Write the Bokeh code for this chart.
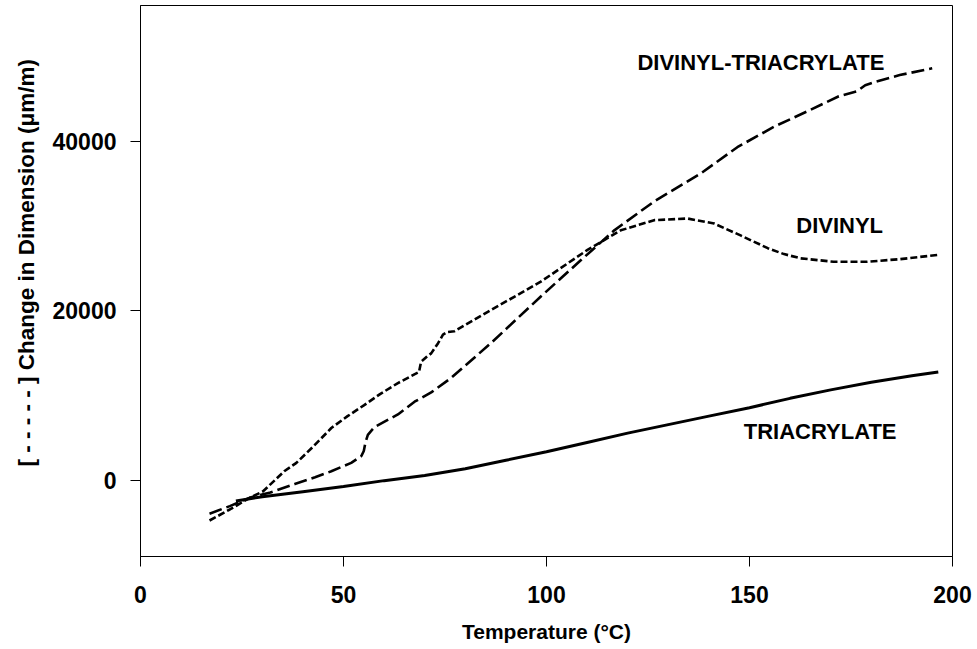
from bokeh.plotting import figure
from bokeh.models import Range1d, FixedTicker, Label, Title
from bokeh.embed import file_html
from bokeh.resources import INLINE

# ---- data ----
dt_temp = [17, 22, 27, 32, 38, 43, 47, 51.9, 54.4, 55.0, 55.4, 56.0, 57.6, 63.4, 67.5,
           71.6, 76.5, 86.3, 98.6, 108.5, 116.7, 126.5, 138, 147, 156, 165, 172,
           176.5, 178.5, 181, 187, 195]
dt_val = [-3900, -3000, -2000, -1400, -400, 400, 1100, 2100, 2900, 3500, 4500, 5400,
          6300, 7800, 9300, 10400, 12100, 16200, 21700, 26000, 29500, 32900, 36200,
          39300, 41700, 43700, 45300, 45900, 46600, 47000, 47800, 48600]

dv_temp = [17, 22, 27, 30.2, 35.4, 38.4, 42.5, 47, 51, 55.1, 59, 63.4, 68.6, 69.1,
           70.5, 71.6, 73.3, 74.5, 75.5, 77.3, 86.3, 98.6, 110.1, 118.3, 126.5,
           134.7, 141.3, 147.8, 154.5, 158.5, 162.6, 170.7, 179, 187, 196.3]
dv_val = [-4700, -3400, -2000, -1250, 1100, 2100, 4000, 6200, 7600, 8900, 10200,
          11500, 12800, 14000, 14600, 15000, 16200, 17200, 17500, 17600, 20100,
          23450, 27200, 29500, 30700, 30900, 30300, 28900, 27400, 26700, 26200,
          25800, 25800, 26100, 26600]

tr_temp = [23.5, 30, 40, 50, 60, 70, 80, 90, 100, 110, 120, 130, 140, 150, 160,
           170, 180, 190, 196.5]
tr_val = [-2400, -1900, -1300, -700, 0, 600, 1400, 2400, 3400, 4500, 5600, 6600,
          7600, 8600, 9700, 10700, 11600, 12350, 12800]

x_ticks = [0, 50, 100, 150, 200]
y_ticks = [0, 20000, 40000]

series_labels = ["DIVINYL-TRIACRYLATE", "DIVINYL", "TRIACRYLATE"]
label_x = [152.8, 172.2, 167.4]
label_y = [49300, 30100, 5760]

x_title = "Temperature (°C)"
y_title = "[ - - - - - ] Change in Dimension (μm/m)"

FONT = "Liberation Sans"

p = figure(width=977, height=645, output_backend="svg", toolbar_location=None,
           x_range=Range1d(0, 200), y_range=Range1d(-8941, 56000),
           min_border_left=139, min_border_right=25, min_border_top=5,
           min_border_bottom=88)

p.background_fill_color = "white"
p.border_fill_color = "white"
p.outline_line_color = "black"
p.outline_line_width = 1
p.xgrid.visible = False
p.ygrid.visible = False

for ax in (p.xaxis[0], p.yaxis[0]):
    ax.axis_line_color = "black"
    ax.axis_line_width = 1
    ax.major_tick_line_color = "black"
    ax.major_tick_in = 0
    ax.major_tick_out = 10
    ax.minor_tick_line_color = None
    ax.major_label_text_font = FONT
    ax.major_label_text_font_style = "bold"
    ax.major_label_text_font_size = "23px"
    ax.major_label_text_color = "black"

p.xaxis.ticker = FixedTicker(ticks=x_ticks)
p.yaxis.ticker = FixedTicker(ticks=y_ticks)
p.xaxis.major_label_standoff = 19
p.yaxis.major_label_standoff = 14

p.xaxis.axis_label = x_title
p.xaxis.axis_label_text_font = FONT
p.xaxis.axis_label_text_font_style = "bold"
p.xaxis.axis_label_text_font_size = "21px"
p.xaxis.axis_label_text_color = "black"
p.xaxis.axis_label_standoff = 14

p.line(dt_temp, dt_val, line_color="black", line_width=2.6, line_dash="13 5")
p.line(dv_temp, dv_val, line_color="black", line_width=2.6, line_dash="7 3")
p.line(tr_temp, tr_val, line_color="black", line_width=3)

for t, lx, ly in zip(series_labels, label_x, label_y):
    p.add_layout(Label(x=lx, y=ly, text=t, text_font=FONT, text_font_style="bold",
                       text_font_size="22px", text_color="black",
                       text_align="center", text_baseline="middle"))

p.add_layout(Title(text=y_title, align="left", offset=90, standoff=22,
                   text_font=FONT, text_font_style="bold",
                   text_font_size="22.5px", text_color="black"), "left")

open("out.html", "w").write(file_html(p, INLINE))
